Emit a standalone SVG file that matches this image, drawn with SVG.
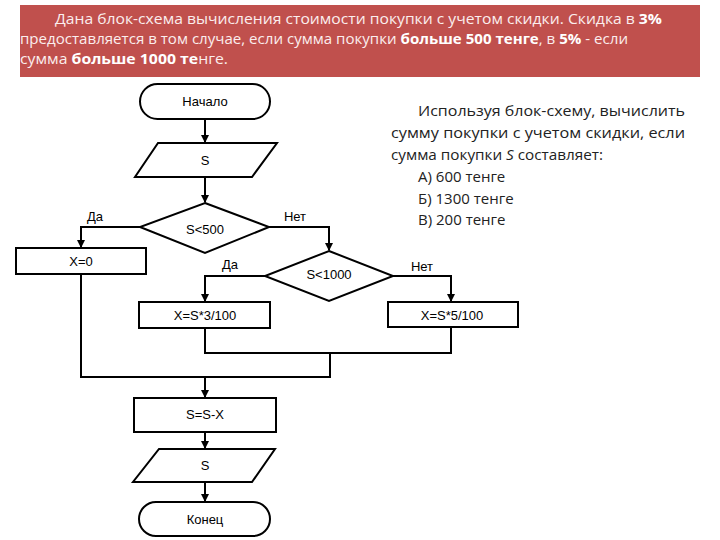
<svg xmlns="http://www.w3.org/2000/svg" width="720" height="540" viewBox="0 0 720 540">
<style>
.sh{fill:#fff;stroke:#000;stroke-width:2}
.ln{fill:none;stroke:#000;stroke-width:2}
.t{font-family:"Liberation Sans",Arial,sans-serif;font-size:13px;fill:#000;text-anchor:middle}
.h{font-family:"Open Sans","Liberation Sans",sans-serif;font-size:15px;fill:#fbeeee}
.b{font-weight:bold;fill:#fff}
.r{font-family:"Open Sans","Liberation Sans",sans-serif;font-size:15px;fill:#222}
</style>
<defs>
<marker id="ah" markerWidth="8" markerHeight="8" refX="7" refY="4" orient="auto" markerUnits="userSpaceOnUse">
<path d="M0,0 L8,4 L0,8 Z" fill="#000"/>
</marker>
</defs>
<rect width="720" height="540" fill="#fff"/>
<g id="header">
<rect x="20" y="5" width="680" height="72" fill="#c0504d"/>
<text class="h" x="55" y="24" textLength="607" lengthAdjust="spacingAndGlyphs">Дана блок-схема вычисления стоимости покупки с учетом скидки. Скидка в <tspan class="b">3%</tspan></text>
<text class="h" x="20" y="44" textLength="608" lengthAdjust="spacingAndGlyphs">предоставляется в том случае, если сумма покупки <tspan class="b">больше 500 тенге</tspan>, в <tspan class="b">5%</tspan> - если</text>
<text class="h" x="20" y="64" textLength="208" lengthAdjust="spacingAndGlyphs">сумма <tspan class="b">больше 1000 те</tspan>нге.</text>
</g>
<g id="task">
<text class="r" x="418" y="116" textLength="267" lengthAdjust="spacingAndGlyphs">Используя блок-схему, вычислить</text>
<text class="r" x="391" y="138" textLength="294" lengthAdjust="spacingAndGlyphs">сумму покупки с учетом скидки, если</text>
<text class="r" x="391" y="160" textLength="212" lengthAdjust="spacingAndGlyphs">сумма покупки <tspan font-style="italic">S</tspan> составляет:</text>
<text class="r" x="418" y="182">А) 600 тенге</text>
<text class="r" x="418" y="204">Б) 1300 тенге</text>
<text class="r" x="418" y="225">В) 200 тенге</text>
</g>
<g id="connectors">
<line class="ln" x1="205" y1="119" x2="205" y2="142" marker-end="url(#ah)"/>
<line class="ln" x1="205" y1="177" x2="205" y2="202" marker-end="url(#ah)"/>
<polyline class="ln" points="140,227 81,227 81,247" marker-end="url(#ah)"/>
<polyline class="ln" points="269,227 329,227 329,250" marker-end="url(#ah)"/>
<polyline class="ln" points="265,276 205,276 205,301" marker-end="url(#ah)"/>
<polyline class="ln" points="393,276 451,276 451,301" marker-end="url(#ah)"/>
<polyline class="ln" points="205,328 205,353 451,353 451,327"/>
<polyline class="ln" points="81,274 81,377 330,377 330,353"/>
<line class="ln" x1="205" y1="377" x2="205" y2="397" marker-end="url(#ah)"/>
<line class="ln" x1="205" y1="432" x2="205" y2="448" marker-end="url(#ah)"/>
<line class="ln" x1="205" y1="482" x2="205" y2="501" marker-end="url(#ah)"/>
<text class="t" x="95" y="221">Да</text>
<text class="t" x="295" y="221">Нет</text>
<text class="t" x="230" y="269">Да</text>
<text class="t" x="422" y="271">Нет</text>
</g>
<g id="start">
<rect class="sh" x="140" y="84" width="130" height="35" rx="17.5"/>
<text class="t" x="205" y="106">Начало</text>
</g>
<g id="input">
<polygon class="sh" points="158,143 277,143 252,177 135,177"/>
<text class="t" x="205" y="165">S</text>
</g>
<g id="cond1">
<polygon class="sh" points="205,203 269,227 205,253 140,227"/>
<text class="t" x="205" y="234">S&lt;500</text>
</g>
<g id="x0">
<rect class="sh" x="16" y="248" width="130" height="26"/>
<text class="t" x="81" y="266">X=0</text>
</g>
<g id="cond2">
<polygon class="sh" points="329,251 393,276 329,301 265,276"/>
<text class="t" x="329" y="279">S&lt;1000</text>
</g>
<g id="x3">
<rect class="sh" x="139" y="302" width="131" height="26"/>
<text class="t" x="205" y="320">X=S*3/100</text>
</g>
<g id="x5">
<rect class="sh" x="388" y="302" width="130" height="25"/>
<text class="t" x="452" y="320">X=S*5/100</text>
</g>
<g id="calc">
<rect class="sh" x="134" y="398" width="142" height="34"/>
<text class="t" x="205" y="419">S=S-X</text>
</g>
<g id="output">
<polygon class="sh" points="159,449 275,449 252,482 133,482"/>
<text class="t" x="205" y="470">S</text>
</g>
<g id="end">
<rect class="sh" x="139" y="502" width="131" height="34" rx="17"/>
<text class="t" x="205" y="524">Конец</text>
</g>
</svg>
